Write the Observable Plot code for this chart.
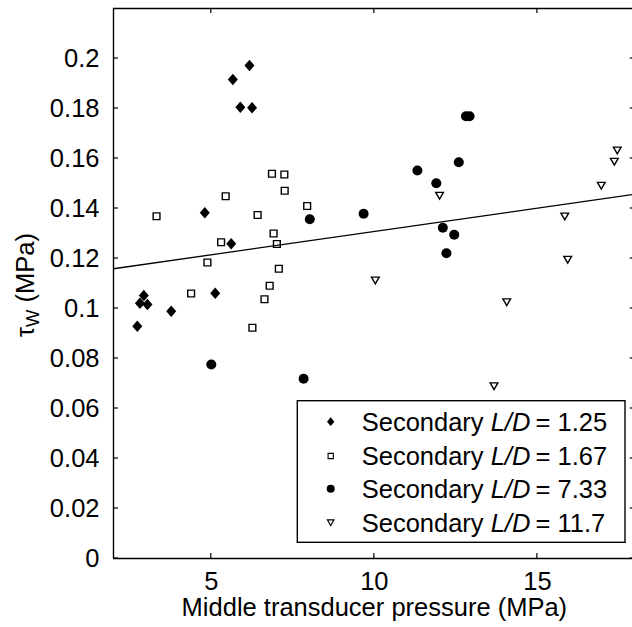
<!DOCTYPE html>
<html>
<head>
<meta charset="utf-8">
<script src="https://cdn.jsdelivr.net/npm/d3@7"></script>
<script src="https://cdn.jsdelivr.net/npm/@observablehq/plot@0.6"></script>
<style>
  html, body { margin: 0; padding: 0; background: #fff; overflow: hidden; }
</style>
</head>
<body>
<div id="chart"></div>
<script>
// ---- data ----
const xTicks = [5, 10, 15];
const yTicks = [0, 0.02, 0.04, 0.06, 0.08, 0.1, 0.12, 0.14, 0.16, 0.18, 0.2];
const xDomain = [2, 18];
const yDomain = [0, 0.22];

const ld125X = [6.17, 5.66, 5.89, 6.25, 4.80, 5.61, 5.12, 2.93, 2.81, 3.04, 3.77, 2.73];
const ld125Y = [0.1972, 0.1916, 0.1805, 0.1803, 0.1383, 0.1259, 0.1061, 0.1052, 0.1021, 0.1016, 0.0989, 0.0929];

const ld167X = [3.32, 5.44, 6.86, 7.24, 7.25, 6.42, 5.30, 6.91, 7.01, 4.88, 7.07, 4.38, 6.79, 6.63, 6.26, 7.94];
const ld167Y = [0.1369, 0.1449, 0.1539, 0.1536, 0.1471, 0.1374, 0.1265, 0.1300, 0.1258, 0.1184, 0.1159, 0.1060, 0.1091, 0.1037, 0.0923, 0.1410];

const ld733X = [8.02, 9.67, 11.32, 11.90, 12.59, 12.10, 12.45, 12.21, 7.83, 12.81, 12.92, 5.00];
const ld733Y = [0.1357, 0.1379, 0.1552, 0.1501, 0.1585, 0.1323, 0.1295, 0.1221, 0.0719, 0.1769, 0.1769, 0.0776];

const ld117X = [12.00, 10.03, 17.45, 17.36, 16.96, 15.84, 15.93, 14.06, 13.67];
const ld117Y = [0.1451, 0.1112, 0.1632, 0.1587, 0.1491, 0.1368, 0.1195, 0.1025, 0.0689];

const fitX = [2, 18];
const fitY = [0.1159, 0.1457];

const seriesValues = ["1.25", "1.67", "7.33", "11.7"];
const xLabel = "Middle transducer pressure (MPa)";

// ---- helpers ----
const toPts = (xs, ys) => xs.map((x, i) => ({x, y: ys[i]}));
const fmt = d => String(+d.toFixed(2));

const diamondSym = {draw(ctx, size) { const r = Math.sqrt(size / Math.PI), h = r * 1.17;
  ctx.moveTo(0, -h); ctx.lineTo(r, 0); ctx.lineTo(0, h); ctx.lineTo(-r, 0); ctx.closePath(); }};
const squareSym = {draw(ctx, size) { const r = Math.sqrt(size / Math.PI);
  ctx.moveTo(-r, -r); ctx.lineTo(r, -r); ctx.lineTo(r, r); ctx.lineTo(-r, r); ctx.closePath(); }};
const triDownSym = {draw(ctx, size) { const r = Math.sqrt(size / Math.PI), h = r * 0.87;
  ctx.moveTo(-r, -h); ctx.lineTo(r, -h); ctx.lineTo(0, h); ctx.closePath(); }};

const FONT = "'Liberation Sans', Arial, Helvetica, sans-serif";
const FS = 25.5;

const plot = Plot.plot({
  width: 632,
  height: 627,
  marginLeft: 113,
  marginRight: -2.7,
  marginTop: 8,
  marginBottom: 69,
  style: {fontFamily: FONT, fontSize: FS + "px", color: "black", background: "white", overflow: "hidden"},
  x: {domain: xDomain, label: null},
  y: {domain: yDomain, label: null},
  marks: [
    Plot.dot(toPts(ld125X, ld125Y), {x: "x", y: "y", symbol: diamondSym, r: 5, fill: "black", stroke: "none"}),
    Plot.dot(toPts(ld167X, ld167Y), {x: "x", y: "y", symbol: squareSym, r: 3.4, fill: "white", stroke: "black", strokeWidth: 1.4}),
    Plot.dot(toPts(ld733X, ld733Y), {x: "x", y: "y", symbol: "circle", r: 5, fill: "black", stroke: "none"}),
    Plot.dot(toPts(ld117X, ld117Y), {x: "x", y: "y", symbol: triDownSym, r: 3.85, fill: "white", stroke: "black", strokeWidth: 1.4}),
    Plot.line(toPts(fitX, fitY), {x: "x", y: "y", stroke: "black", strokeWidth: 1.3}),
    Plot.ruleY([yDomain[0], yDomain[1]], {stroke: "black", strokeWidth: 1.4}),
    Plot.ruleX([xDomain[0], xDomain[1]], {stroke: "black", strokeWidth: 1.4}),
    Plot.axisX({anchor: "bottom", ticks: xTicks, tickSize: 0, tickPadding: 13, tickFormat: fmt, fontSize: FS}),
    Plot.axisY({anchor: "left", ticks: yTicks, tickSize: 0, tickPadding: 14, tickFormat: fmt, fontSize: FS}),
    Plot.text([xLabel], {frameAnchor: "bottom", dy: 57, fontSize: FS, fill: "black"})
  ]
});

document.getElementById("chart").appendChild(plot);

const svg = d3.select(plot);
const sx = plot.scale("x"), sy = plot.scale("y");
const X0 = sx.apply(xDomain[0]), X1 = sx.apply(xDomain[1]);
const Y0 = sy.apply(yDomain[0]), Y1 = sy.apply(yDomain[1]);
const TL = 5;

// ---- inward ticks on all four sides ----
const tg = svg.append("g").attr("stroke", "black").attr("stroke-width", 1.2);
xTicks.forEach(v => {
  const px = sx.apply(v);
  tg.append("line").attr("x1", px).attr("x2", px).attr("y1", Y0).attr("y2", Y0 - TL);
  tg.append("line").attr("x1", px).attr("x2", px).attr("y1", Y1).attr("y2", Y1 + TL);
});
yTicks.forEach(v => {
  const py = sy.apply(v);
  tg.append("line").attr("x1", X0).attr("x2", X0 + TL).attr("y1", py).attr("y2", py);
  tg.append("line").attr("x1", X1).attr("x2", X1 - TL).attr("y1", py).attr("y2", py);
});

// ---- y-axis label with subscript ----
const yl = svg.append("text")
  .attr("transform", "translate(34,285) rotate(-90)")
  .attr("text-anchor", "middle")
  .attr("font-family", FONT)
  .attr("font-size", FS)
  .attr("fill", "black");
yl.append("tspan").text("τ");
yl.append("tspan").attr("font-size", FS * 0.72).attr("dy", 5).text("W");
yl.append("tspan").attr("dy", -5).text(" (MPa)");

// ---- legend ----
const lg = svg.append("g");
lg.append("rect")
  .attr("x", 297.3).attr("y", 400.7).attr("width", 327.7).attr("height", 141.6)
  .attr("fill", "white").attr("stroke", "black").attr("stroke-width", 1.4);
const legendSyms = [
  {type: diamondSym, r: 3.7, fill: "black", stroke: "none"},
  {type: squareSym, r: 2.6, fill: "white", stroke: "black"},
  {type: d3.symbolCircle, r: 4, fill: "black", stroke: "none"},
  {type: triDownSym, r: 3.3, fill: "white", stroke: "black"}
];
const rowY = [421.7, 456, 488.8, 522.7];
seriesValues.forEach((v, i) => {
  const s = legendSyms[i];
  lg.append("path")
    .attr("d", d3.symbol(s.type, s.r * s.r * Math.PI)())
    .attr("transform", `translate(330.7,${rowY[i]})`)
    .attr("fill", s.fill).attr("stroke", s.stroke).attr("stroke-width", 1.1);
  const t = lg.append("text")
    .attr("x", 361.7).attr("y", rowY[i] + 9)
    .attr("text-anchor", "start")
    .attr("font-family", FONT).attr("font-size", FS).attr("fill", "black");
  t.append("tspan").text("Secondary ");
  t.append("tspan").attr("font-style", "italic").text("L/D");
  t.append("tspan").text("\u2009= " + v);
});
</script>
</body>
</html>
